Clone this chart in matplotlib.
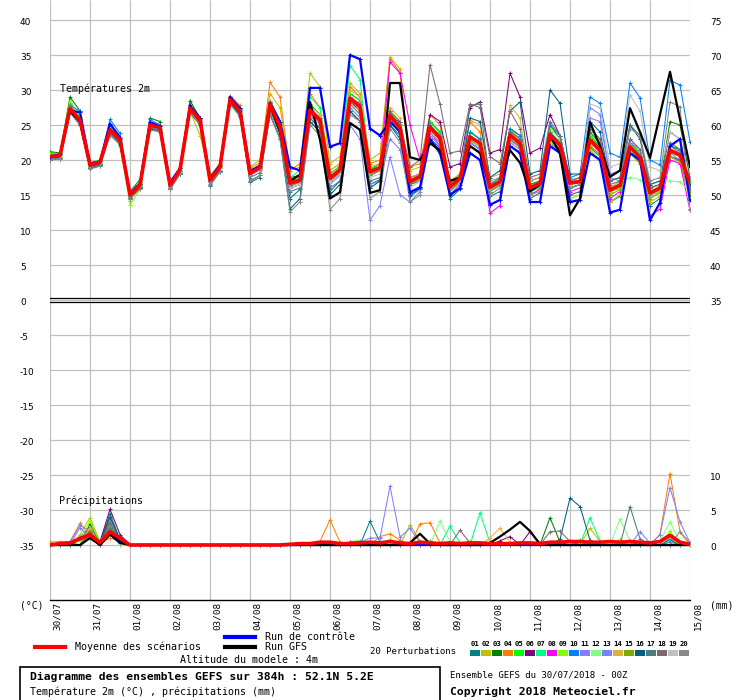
import matplotlib
matplotlib.use('Agg')
import matplotlib.pyplot as plt
from matplotlib.lines import Line2D
from matplotlib.patches import Rectangle
import numpy as np

W, H = 740, 700

# time axis: every 6h from 30/07 00Z to 15/08 00Z (384h)
hours = list(range(0, 385, 6))
day_labels = ['30/07', '31/07', '01/08', '02/08', '03/08', '04/08', '05/08', '06/08',
              '07/08', '08/08', '09/08', '10/08', '11/08', '12/08', '13/08', '14/08', '15/08']

member_colors = ['#008080', '#c0c000', '#008000', '#ff8000', '#00ff00', '#800080', '#00ff80',
                 '#ff00ff', '#80ff00', '#0080ff', '#8080ff', '#80ff80', '#8080f0', '#e0b040',
                 '#80a800', '#006080', '#507880', '#806870', '#c0c0c0', '#888888']

# 2m temperature (°C)
temp_mean = [20.5, 20.6, 27.4, 25.7, 19.3, 19.7, 24.3, 22.9, 15.0, 16.4,
             25.0, 24.6, 16.4, 18.6, 27.4, 25.7, 17.1, 19.0, 28.6, 27.0,
             18.1, 18.9, 28.0, 24.7, 16.7, 17.1, 27.1, 25.7, 17.4, 18.6,
             28.8, 27.6, 18.3, 18.9, 26.4, 24.6, 16.9, 17.6, 24.7, 23.1,
             16.1, 17.4, 23.3, 22.4, 16.1, 16.9, 23.6, 22.4, 16.0, 16.7,
             23.6, 22.1, 16.7, 16.9, 22.9, 21.4, 15.7, 16.4, 21.9, 20.4,
             15.3, 16.0, 21.4, 20.7, 16.7]

temp_ctrl = [20.5, 20.8, 27.1, 26.8, 19.5, 19.8, 25.2, 23.2, 15.2, 16.6,
             25.4, 24.8, 16.8, 18.8, 27.8, 26.0, 17.4, 19.3, 29.0, 27.4,
             18.4, 19.2, 28.2, 25.5, 19.0, 18.5, 30.3, 30.3, 21.9, 22.4,
             35.0, 34.4, 24.5, 23.5, 25.5, 24.0, 15.4, 16.1, 23.0, 21.0,
             15.0, 16.0, 21.0, 20.0, 13.6, 14.3, 22.0, 21.0, 14.0, 14.0,
             22.0, 21.0, 14.0, 14.3, 21.0, 20.0, 12.5, 12.9, 21.0, 20.0,
             11.4, 13.9, 22.0, 23.0, 14.3]

temp_gfs = [20.4, 20.6, 27.0, 25.5, 19.2, 19.6, 24.4, 22.8, 15.0, 16.5,
            25.0, 24.6, 16.5, 18.6, 27.5, 25.6, 17.2, 19.0, 28.5, 26.8,
            18.0, 18.9, 27.8, 24.0, 17.0, 17.9, 28.3, 22.9, 14.5, 15.4,
            25.3, 24.3, 15.3, 15.7, 31.0, 31.0, 20.4, 20.0, 22.4, 21.4,
            17.0, 17.5, 22.0, 21.0, 16.0, 17.0, 21.4, 19.6, 15.5, 16.5,
            23.5, 21.0, 12.1, 14.5, 25.4, 22.0, 17.6, 18.5, 27.4, 24.0,
            20.3, 26.5, 32.6, 25.8, 19.0]

temp_members = [
    # 01
    [20.0, 20.3, 27.0, 25.2, 18.8, 19.3, 23.8, 22.6, 14.4, 16.0,
     24.5, 24.2, 15.9, 18.1, 27.0, 25.3, 16.3, 18.4, 28.0, 26.5,
     16.8, 17.5, 26.5, 23.2, 14.5, 15.8, 25.5, 24.0, 15.5, 17.0,
     27.0, 25.5, 16.5, 17.2, 25.0, 23.5, 14.8, 15.8, 23.0, 21.8,
     14.5, 15.8, 22.5, 21.5, 14.8, 15.5, 22.0, 21.0, 14.5, 15.3,
     22.5, 21.3, 15.0, 15.5, 21.8, 20.5, 14.0, 14.8, 21.0, 19.8,
     13.5, 14.5, 20.5, 19.8, 14.8],
    # 02
    [20.8, 21.0, 27.8, 26.0, 19.6, 20.0, 24.8, 23.3, 14.2, 16.8,
     25.5, 25.0, 16.8, 19.0, 27.0, 23.5, 17.8, 19.5, 29.0, 27.5,
     19.0, 20.0, 29.5, 27.5, 18.5, 19.0, 32.4, 30.5, 19.5, 20.5,
     31.0, 29.5, 20.0, 21.0, 34.7, 33.0, 18.5, 19.0, 25.5, 23.8,
     15.5, 16.8, 22.8, 21.8, 15.8, 16.5, 23.0, 21.8, 15.0, 15.8,
     22.5, 21.0, 14.5, 15.0, 21.5, 20.0, 14.0, 15.0, 21.0, 19.5,
     14.0, 14.8, 20.0, 19.5, 14.5],
    # 03
    [21.2, 21.0, 29.0, 27.0, 19.0, 19.5, 24.0, 22.5, 15.5, 17.2,
     26.0, 25.5, 16.0, 18.0, 28.5, 26.0, 17.5, 19.2, 28.8, 27.5,
     18.5, 19.2, 28.5, 25.5, 17.5, 17.8, 28.0, 26.5, 18.0, 19.0,
     29.5, 28.5, 18.5, 19.5, 27.0, 25.0, 17.0, 18.0, 25.5, 24.0,
     16.5, 17.5, 24.0, 23.0, 16.0, 17.0, 24.5, 23.5, 16.5, 17.0,
     25.0, 23.0, 17.0, 17.5, 23.0, 21.5, 15.5, 16.5, 22.5, 21.0,
     16.0, 16.5, 25.5, 25.0, 17.5],
    # 04
    [20.6, 20.8, 27.6, 26.0, 19.5, 19.8, 24.5, 23.0, 15.3, 16.6,
     25.3, 24.9, 16.7, 18.9, 27.8, 26.0, 17.5, 19.5, 29.2, 27.8,
     18.8, 19.6, 31.1, 29.0, 18.5, 19.5, 29.5, 27.5, 18.5, 19.5,
     30.5, 29.0, 19.5, 20.0, 34.5, 32.5, 19.0, 19.5, 26.5, 25.0,
     17.0, 18.0, 25.5, 24.0, 17.0, 17.5, 24.5, 23.0, 17.0, 17.5,
     23.5, 22.0, 16.5, 17.0, 23.5, 22.0, 16.0, 17.0, 22.0, 20.5,
     15.5, 16.0, 21.5, 21.0, 17.0],
    # 05
    [21.0, 20.9, 28.2, 26.2, 19.6, 20.0, 24.6, 23.2, 14.8, 16.8,
     25.2, 24.8, 16.6, 18.8, 27.6, 25.9, 17.3, 19.3, 28.9, 27.3,
     18.4, 19.2, 28.4, 25.2, 17.2, 17.6, 27.8, 26.5, 18.0, 19.2,
     29.5, 28.5, 18.8, 19.4, 27.0, 25.2, 17.2, 18.0, 25.5, 24.0,
     16.5, 17.8, 24.0, 23.0, 16.5, 17.3, 24.2, 23.0, 16.3, 17.0,
     24.0, 22.5, 16.8, 17.0, 23.5, 22.0, 15.9, 16.6, 22.5, 21.0,
     15.5, 16.2, 22.0, 21.2, 16.8],
    # 06
    [20.3, 20.5, 27.3, 25.8, 19.0, 19.5, 24.2, 23.0, 15.2, 16.2,
     25.0, 24.5, 16.5, 18.5, 27.2, 25.5, 16.8, 18.8, 28.4, 26.8,
     18.0, 18.7, 27.8, 24.5, 16.5, 16.9, 27.0, 25.5, 17.0, 18.2,
     28.5, 27.0, 17.8, 18.5, 26.0, 25.5, 17.5, 18.0, 26.5, 25.5,
     19.0, 19.5, 27.5, 28.3, 21.0, 21.5, 32.4, 29.0, 21.0, 21.7,
     26.5, 23.5, 17.0, 17.0, 23.0, 21.5, 15.5, 16.0, 21.5, 20.0,
     15.0, 15.5, 20.5, 20.0, 15.5],
    # 07
    [20.7, 20.8, 27.5, 25.5, 19.0, 19.6, 24.4, 22.0, 15.6, 16.6,
     24.8, 24.2, 16.2, 18.3, 27.5, 25.8, 17.2, 19.0, 28.8, 27.2,
     18.5, 19.0, 28.5, 25.5, 17.5, 18.5, 29.0, 27.5, 18.0, 19.0,
     33.5, 31.5, 18.5, 19.0, 27.0, 25.0, 16.5, 17.0, 24.0, 22.5,
     15.5, 17.0, 23.0, 22.0, 15.5, 16.5, 23.5, 22.0, 15.5, 16.0,
     25.0, 23.5, 17.0, 17.5, 24.0, 22.0, 16.0, 16.5, 22.0, 21.0,
     15.0, 15.8, 21.0, 20.5, 16.5],
    # 08
    [20.4, 20.7, 27.2, 25.6, 19.4, 19.6, 24.1, 22.8, 15.1, 16.5,
     24.9, 24.5, 16.3, 18.5, 27.3, 25.6, 17.0, 18.9, 28.5, 26.8,
     18.0, 18.8, 27.5, 24.0, 16.0, 16.5, 26.5, 25.0, 17.0, 18.5,
     29.0, 28.0, 18.0, 18.5, 34.0, 32.4, 25.0, 20.0, 24.0, 22.0,
     15.0, 16.5, 22.5, 21.5, 12.4, 13.5, 23.0, 22.0, 15.0, 15.8,
     23.0, 21.5, 15.5, 16.0, 22.5, 21.0, 14.5, 15.5, 21.5, 20.0,
     12.0, 13.0, 20.0, 19.5, 12.8],
    # 09
    [20.8, 20.6, 28.5, 26.0, 19.0, 19.4, 24.0, 22.5, 13.6, 15.8,
     25.3, 24.8, 16.0, 18.4, 27.5, 25.8, 16.8, 18.8, 28.8, 27.5,
     18.2, 19.0, 28.0, 24.5, 16.8, 17.5, 27.0, 25.5, 17.5, 18.8,
     28.5, 27.5, 18.5, 19.0, 26.5, 24.5, 17.0, 17.5, 24.5, 23.0,
     16.0, 17.5, 23.5, 22.5, 16.0, 17.0, 23.5, 22.5, 15.5, 16.5,
     24.5, 23.0, 17.0, 17.5, 24.0, 22.5, 15.5, 16.0, 21.5, 20.0,
     15.0, 15.5, 22.5, 21.5, 16.5],
    # 10
    [20.4, 20.5, 27.8, 27.0, 19.5, 19.9, 25.8, 23.8, 15.5, 16.7,
     25.8, 25.0, 16.8, 18.9, 27.4, 25.8, 17.4, 19.2, 28.8, 27.2,
     18.2, 19.0, 28.3, 25.0, 17.0, 17.3, 27.5, 26.0, 17.5, 18.8,
     29.0, 27.8, 18.5, 19.0, 26.5, 24.5, 17.0, 17.5, 25.0, 23.5,
     16.5, 17.5, 24.0, 23.0, 16.5, 17.5, 24.5, 23.5, 17.0, 17.5,
     25.0, 23.5, 17.5, 18.0, 29.0, 28.1, 21.0, 20.4, 31.0, 28.9,
     20.0, 19.3, 31.4, 30.7, 22.6],
    # 11
    [20.2, 20.4, 27.0, 25.3, 19.0, 19.5, 24.0, 22.5, 14.8, 16.2,
     24.6, 24.2, 16.0, 18.2, 27.0, 25.2, 16.8, 18.6, 28.2, 26.5,
     17.8, 18.6, 27.5, 24.0, 16.0, 16.5, 26.0, 24.5, 16.5, 17.8,
     25.0, 23.0, 11.4, 13.5, 20.4, 15.0, 14.0, 15.5, 22.5, 21.0,
     15.0, 16.5, 22.5, 21.5, 15.5, 16.5, 23.0, 22.0, 15.5, 16.5,
     23.0, 21.5, 16.0, 16.5, 26.0, 25.5, 18.0, 18.5, 22.5, 21.5,
     16.5, 17.0, 22.0, 21.0, 17.5],
    # 12
    [20.6, 20.7, 27.4, 25.6, 19.3, 19.8, 24.4, 23.0, 15.0, 16.5,
     25.0, 24.6, 16.4, 18.6, 27.3, 25.6, 17.0, 19.0, 28.5, 27.0,
     18.0, 18.8, 27.8, 24.5, 16.5, 17.0, 27.0, 25.5, 17.2, 18.5,
     28.5, 27.5, 18.0, 18.8, 26.0, 24.0, 16.5, 17.5, 24.5, 23.0,
     16.0, 17.5, 23.0, 22.0, 16.0, 17.0, 23.5, 22.5, 16.0, 16.5,
     23.0, 22.0, 16.5, 17.0, 21.0, 20.0, 16.0, 16.8, 17.5, 17.2,
     16.5, 17.0, 17.0, 16.9, 15.5],
    # 13
    [20.5, 20.4, 27.1, 25.5, 19.2, 19.6, 24.2, 22.7, 14.9, 16.3,
     24.8, 24.4, 16.2, 18.4, 27.2, 25.4, 16.9, 18.8, 28.4, 26.8,
     17.9, 18.7, 27.6, 24.4, 16.3, 16.8, 26.5, 25.0, 16.8, 18.0,
     27.5, 26.0, 16.5, 17.0, 23.0, 21.5, 15.0, 16.0, 23.5, 22.0,
     15.5, 16.8, 22.5, 21.5, 15.5, 16.3, 22.8, 21.8, 15.5, 16.2,
     23.0, 21.5, 16.0, 16.5, 27.5, 26.5, 17.5, 17.0, 23.0, 21.5,
     15.0, 15.8, 21.0, 20.0, 16.0],
    # 14
    [20.7, 20.7, 27.6, 25.9, 19.5, 19.8, 24.5, 23.0, 15.2, 16.6,
     25.2, 24.8, 16.6, 18.8, 27.6, 25.9, 17.3, 19.2, 28.9, 27.3,
     18.3, 19.1, 28.5, 25.2, 17.2, 17.6, 27.8, 26.5, 17.8, 19.0,
     30.0, 29.0, 19.0, 19.5, 27.5, 26.0, 17.5, 18.0, 24.0, 22.5,
     16.5, 18.0, 25.7, 25.0, 17.5, 18.0, 27.8, 26.0, 17.0, 17.5,
     24.0, 22.5, 16.5, 17.0, 22.5, 21.0, 15.5, 16.5, 22.0, 20.5,
     14.5, 15.5, 21.5, 20.5, 15.5],
    # 15
    [20.6, 20.5, 27.2, 25.5, 19.1, 19.5, 24.1, 22.8, 14.9, 16.3,
     24.9, 24.5, 16.3, 18.5, 27.3, 25.6, 17.0, 18.9, 28.5, 26.9,
     18.0, 18.8, 27.6, 24.2, 16.3, 16.8, 26.8, 25.3, 17.0, 18.3,
     28.2, 27.0, 17.8, 18.5, 26.0, 24.0, 16.5, 17.2, 24.0, 22.5,
     15.5, 17.0, 22.8, 22.0, 15.5, 16.5, 23.0, 22.0, 15.5, 16.2,
     23.0, 21.5, 16.0, 16.5, 22.0, 20.8, 15.0, 15.8, 21.0, 19.5,
     14.5, 15.3, 20.5, 19.8, 15.5],
    # 16
    [20.0, 20.2, 26.8, 25.0, 18.8, 19.2, 23.8, 22.3, 14.6, 16.0,
     24.5, 24.0, 15.8, 18.0, 26.8, 25.0, 16.5, 18.3, 28.0, 26.3,
     17.0, 17.8, 26.5, 23.0, 13.0, 14.5, 25.5, 24.0, 15.0, 16.5,
     27.0, 25.5, 16.0, 17.0, 25.0, 23.0, 15.0, 16.0, 24.0, 22.5,
     16.0, 17.0, 26.0, 25.5, 17.5, 18.5, 27.0, 28.3, 18.0, 18.5,
     30.0, 28.1, 18.0, 18.0, 25.5, 24.0, 17.0, 17.5, 25.0, 23.0,
     16.5, 17.0, 22.0, 21.5, 16.5],
    # 17
    [20.1, 20.3, 27.0, 25.2, 18.9, 19.3, 23.9, 22.4, 14.7, 16.1,
     24.6, 24.2, 15.9, 18.1, 27.0, 25.2, 16.6, 18.5, 28.2, 26.5,
     17.5, 18.2, 27.0, 23.8, 15.5, 16.0, 26.0, 24.5, 16.0, 17.0,
     28.0, 26.5, 17.0, 17.5, 26.0, 24.5, 16.5, 17.0, 24.5, 23.0,
     16.5, 17.5, 27.8, 28.0, 16.5, 17.0, 24.0, 23.0, 16.5, 17.0,
     24.0, 22.5, 16.0, 16.5, 24.5, 23.0, 17.0, 17.5, 25.0, 23.5,
     16.0, 16.5, 24.0, 23.0, 16.0],
    # 18
    [20.3, 20.5, 27.2, 25.6, 19.2, 19.6, 24.2, 22.8, 15.0, 16.4,
     24.9, 24.5, 16.4, 18.6, 27.4, 25.7, 17.1, 19.0, 28.5, 27.0,
     18.0, 18.8, 27.8, 24.5, 16.5, 17.0, 27.0, 25.5, 17.5, 18.5,
     29.0, 28.0, 18.5, 19.0, 27.0, 25.5, 19.0, 20.0, 33.6, 28.0,
     21.0, 21.3, 28.0, 27.5, 20.5, 19.5, 27.0, 24.5, 17.5, 18.0,
     25.5, 23.5, 17.0, 17.5, 24.0, 22.5, 16.5, 17.0, 23.0, 21.5,
     16.0, 16.5, 22.5, 21.5, 16.0],
    # 19
    [20.4, 20.5, 27.3, 25.5, 19.2, 19.6, 24.3, 22.9, 15.0, 16.3,
     24.9, 24.4, 16.3, 18.5, 27.3, 25.6, 17.0, 18.9, 28.5, 26.9,
     18.0, 18.7, 27.5, 24.0, 16.0, 16.5, 26.5, 25.0, 16.8, 18.0,
     28.0, 27.0, 17.5, 18.0, 25.5, 24.0, 16.0, 17.0, 24.0, 22.5,
     16.0, 17.0, 23.0, 22.0, 16.0, 16.8, 23.5, 22.5, 16.0, 16.5,
     23.5, 22.0, 16.5, 17.0, 28.0, 27.5, 19.0, 19.5, 29.3, 27.0,
     19.0, 18.5, 24.0, 23.0, 13.0],
    # 20
    [20.0, 20.2, 26.8, 25.0, 18.7, 19.1, 23.5, 22.2, 14.5, 15.8,
     24.3, 24.0, 15.8, 18.0, 26.8, 25.0, 16.5, 18.3, 28.0, 26.2,
     17.0, 17.8, 26.5, 23.0, 12.6, 14.0, 25.0, 23.5, 12.9, 14.5,
     26.5, 25.5, 14.5, 15.5, 24.5, 22.5, 14.0, 15.0, 23.0, 21.5,
     15.0, 16.0, 22.0, 21.0, 15.0, 16.0, 22.5, 21.5, 15.0, 15.5,
     23.0, 21.5, 16.0, 16.5, 23.0, 22.0, 16.0, 16.5, 24.5, 23.5,
     17.0, 17.5, 28.3, 27.6, 13.0],
]

# precipitation (mm per 6h); sparse members: {step index: mm}
prcp_mean = [0.0, 0.2, 0.3, 0.9, 1.5, 0.3, 1.9, 1.0, 0.0, 0.0,
             0.0, 0.0, 0.0, 0.0, 0.0, 0.0, 0.0, 0.0, 0.0, 0.0,
             0.0, 0.0, 0.0, 0.0, 0.1, 0.2, 0.2, 0.4, 0.4, 0.2,
             0.2, 0.3, 0.4, 0.3, 0.5, 0.3, 0.2, 0.4, 0.3, 0.2,
             0.3, 0.2, 0.3, 0.3, 0.2, 0.2, 0.2, 0.3, 0.3, 0.2,
             0.4, 0.4, 0.5, 0.5, 0.4, 0.4, 0.5, 0.4, 0.5, 0.4,
             0.3, 0.5, 1.4, 0.4, 0.1]
prcp_ctrl = {3: 1.0, 4: 1.5, 6: 2.0, 7: 0.5}
prcp_gfs = {4: 1.0, 6: 1.5, 7: 0.3, 36: 0.3, 37: 1.6, 38: 0.2, 44: 0.3, 45: 1.2,
            46: 2.2, 47: 3.3, 48: 2.0, 49: 0.1}
prcp_members = [
    {1: 0.3, 3: 1.2, 4: 2.5, 5: 0.3, 6: 4.5, 7: 0.8, 32: 3.4, 33: 0.4, 52: 0.6, 58: 0.5},
    {1: 0.2, 3: 1.5, 4: 3.9, 5: 0.5, 6: 2.5, 7: 1.0, 36: 2.9, 37: 0.6, 54: 2.4, 55: 0.5, 62: 1.0},
    {2: 0.3, 4: 3.0, 5: 0.4, 6: 4.0, 7: 0.6, 50: 3.9, 51: 0.4, 62: 0.8},
    {0: 0.4, 1: 0.5, 2: 0.5, 3: 3.1, 4: 1.5, 5: 0.2, 6: 1.0, 7: 0.5, 27: 0.5, 28: 3.6, 29: 0.4,
     33: 1.2, 34: 1.6, 35: 0.7, 37: 3.0, 38: 3.2, 39: 0.3, 61: 1.5, 62: 10.2, 63: 1.9},
    {4: 2.0, 6: 2.5, 7: 0.4, 30: 0.5, 31: 0.6, 32: 0.3, 44: 0.4, 56: 0.5},
    {3: 0.8, 4: 2.0, 5: 0.5, 6: 5.1, 7: 1.5, 45: 0.6, 46: 1.2, 48: 1.9, 49: 0.3},
    {4: 1.2, 6: 2.2, 40: 2.7, 41: 0.3, 43: 4.6, 44: 0.3, 54: 3.9, 55: 0.6, 61: 0.5},
    {3: 1.0, 4: 1.5, 6: 2.0, 7: 0.3, 30: 0.4, 31: 0.5, 53: 0.4},
    {3: 0.6, 4: 3.5, 5: 0.3, 6: 3.5, 7: 0.6, 34: 0.8, 42: 0.6, 57: 0.8, 62: 2.0},
    {3: 1.0, 4: 1.2, 6: 3.0, 7: 0.4, 59: 0.5, 62: 0.8},
    {2: 0.4, 3: 2.8, 4: 2.0, 5: 0.3, 6: 3.0, 7: 0.6, 31: 0.4, 32: 1.0, 33: 1.0, 34: 8.4,
     35: 1.1, 36: 2.4, 37: 0.4, 61: 1.5, 62: 8.2, 63: 3.3, 64: 0.3},
    {4: 1.5, 6: 2.0, 39: 3.4, 40: 0.5, 57: 3.7, 58: 0.6, 61: 0.5, 62: 3.3, 63: 0.5},
    {3: 2.5, 4: 1.0, 6: 3.5, 7: 0.5, 35: 0.5, 59: 1.9, 60: 0.3},
    {4: 2.5, 6: 1.5, 7: 0.3, 44: 1.0, 45: 2.4, 46: 0.4, 62: 1.2},
    {4: 2.0, 6: 3.0, 7: 0.5, 38: 0.6, 53: 0.7, 58: 0.6},
    {4: 1.5, 6: 4.0, 7: 0.7, 51: 0.8, 52: 6.7, 53: 5.5, 54: 0.7},
    {4: 1.0, 6: 2.5, 7: 0.4, 58: 5.5, 59: 0.9, 62: 0.5},
    {4: 1.8, 6: 3.2, 7: 0.5, 41: 2.1, 42: 0.3, 50: 1.9, 51: 2.0, 52: 0.5},
    {4: 1.2, 6: 1.5, 7: 0.3, 56: 0.4},
    {4: 1.0, 6: 2.0, 7: 0.3, 63: 1.9, 64: 0.3},
]

PRCP_BASE = -35  # precipitation 0 mm sits on the -35 line


def fx(px):
    return px / W


def fy(py):
    return 1 - py / H


def prcp_curve(sparse):
    vals = np.zeros(len(hours))
    for k, v in sparse.items():
        vals[k] = v
    return vals + PRCP_BASE


mono = 'DejaVu Sans Mono'

fig = plt.figure(figsize=(W / 100, H / 100), dpi=100)
ax = fig.add_axes([50 / W, 100 / H, 640 / W, 600 / H])
ax.set_xlim(0, 384)
ax.set_ylim(-300 / 7, 300 / 7)
for s in ['left', 'right', 'top']:
    ax.spines[s].set_visible(False)
ax.spines['bottom'].set_color('black')
ax.spines['bottom'].set_linewidth(1.0)
ax.set_xticks([])
ax.set_yticks([])

grid_c = '#c0c0c0'
ax.vlines(range(0, 385, 24), -300 / 7, 300 / 7, color=grid_c, lw=0.9, zorder=1)
ax.hlines(range(-35, 41, 5), 0, 384, color=grid_c, lw=0.9, zorder=1)
ax.axhline(0.22, color='black', lw=0.9, zorder=2)
ax.axhline(-0.22, color='black', lw=0.9, zorder=2)

# members
for i in range(20):
    c = member_colors[i]
    ax.plot(hours, temp_members[i], color=c, lw=0.75, marker='+', ms=3, mew=0.7, zorder=3)
    ax.plot(hours, prcp_curve(prcp_members[i]), color=c, lw=0.75, marker='+', ms=3,
            mew=0.7, zorder=3)

ax.plot(hours, temp_ctrl, color='#0000ff', lw=1.6, marker='+', ms=3, mew=0.7, zorder=4)
ax.plot(hours, prcp_curve(prcp_ctrl), color='#0000ff', lw=1.6, zorder=4)
ax.plot(hours, temp_gfs, color='black', lw=1.6, zorder=5)
ax.plot(hours, prcp_curve(prcp_gfs), color='black', lw=1.6, zorder=5)
ax.plot(hours, temp_mean, color='#ff0000', lw=2.6, zorder=6)
ax.plot(hours, np.array(prcp_mean) + PRCP_BASE, color='#ff0000', lw=2.6, zorder=6)

# in-plot titles
fig.text(fx(60), fy(89), 'Températures 2m', family=mono, fontsize=7.2, va='center')
fig.text(fx(59), fy(501), 'Précipitations', family=mono, fontsize=7.2, va='center')

# left / right scale labels
for v in range(-35, 41, 5):
    ypx = 300 - v * 7 + 2.5
    fig.text(fx(20), fy(ypx), str(v), fontsize=6.5, va='center', ha='left')
    if v >= 0:
        fig.text(fx(710), fy(ypx), str(v + 35), fontsize=6.5, va='center', ha='left')
    elif v <= -25:
        fig.text(fx(710), fy(ypx), str(v + 35), fontsize=6.5, va='center', ha='left')

fig.text(fx(20), fy(606), '(°C)', family=mono, fontsize=7.0, va='center')
fig.text(fx(710), fy(606), '(mm)', family=mono, fontsize=7.0, va='center')

for d, lab in enumerate(day_labels):
    xpx = 50 + d * 40 + 7.5
    fig.text(fx(xpx), fy(602), lab, family=mono, fontsize=6.7, rotation=90,
             ha='center', va='top')

# legend
fig.add_artist(Line2D([fx(35), fx(65)], [fy(647), fy(647)], transform=fig.transFigure,
                      color='#ff0000', lw=3))
fig.text(fx(75), fy(647), 'Moyenne des scénarios', family=mono, fontsize=7.2, va='center')
fig.add_artist(Line2D([fx(225), fx(255)], [fy(637), fy(637)], transform=fig.transFigure,
                      color='#0000ff', lw=3))
fig.text(fx(265), fy(637), 'Run de contrôle', family=mono, fontsize=7.2, va='center')
fig.add_artist(Line2D([fx(225), fx(255)], [fy(647), fy(647)], transform=fig.transFigure,
                      color='black', lw=3))
fig.text(fx(265), fy(647), 'Run GFS', family=mono, fontsize=7.2, va='center')
fig.text(fx(180), fy(660), 'Altitude du modele : 4m', family=mono, fontsize=7.2, va='center')

fig.text(fx(370), fy(652), '20 Perturbations', family=mono, fontsize=6.5, va='center')
for i, c in enumerate(member_colors):
    x0 = 470 + i * 11
    fig.add_artist(Rectangle((fx(x0), fy(656)), 10 / W, 6 / H, transform=fig.transFigure,
                             facecolor=c, edgecolor='none'))
    fig.text(fx(x0 + 5), fy(644), '%02d' % (i + 1), family=mono, fontsize=5.2,
             fontweight='bold', ha='center', va='center')

# caption box
fig.add_artist(Rectangle((fx(20), fy(702)), 420 / W, 35 / H, transform=fig.transFigure,
                         facecolor='none', edgecolor='black', lw=1.2))
fig.text(fx(30), fy(677), 'Diagramme des ensembles GEFS sur 384h : 52.1N 5.2E', family=mono,
         fontsize=8.2, fontweight='bold', va='center')
fig.text(fx(30), fy(692), 'Température 2m (°C) , précipitations (mm)', family=mono,
         fontsize=7.2, va='center')
fig.text(fx(450), fy(675), 'Ensemble GEFS du 30/07/2018 - 00Z', family=mono, fontsize=6.5,
         va='center')
fig.text(fx(450), fy(692), 'Copyright 2018 Meteociel.fr', family=mono, fontsize=8.2,
         fontweight='bold', va='center')

fig.savefig('out.png', dpi=100)
